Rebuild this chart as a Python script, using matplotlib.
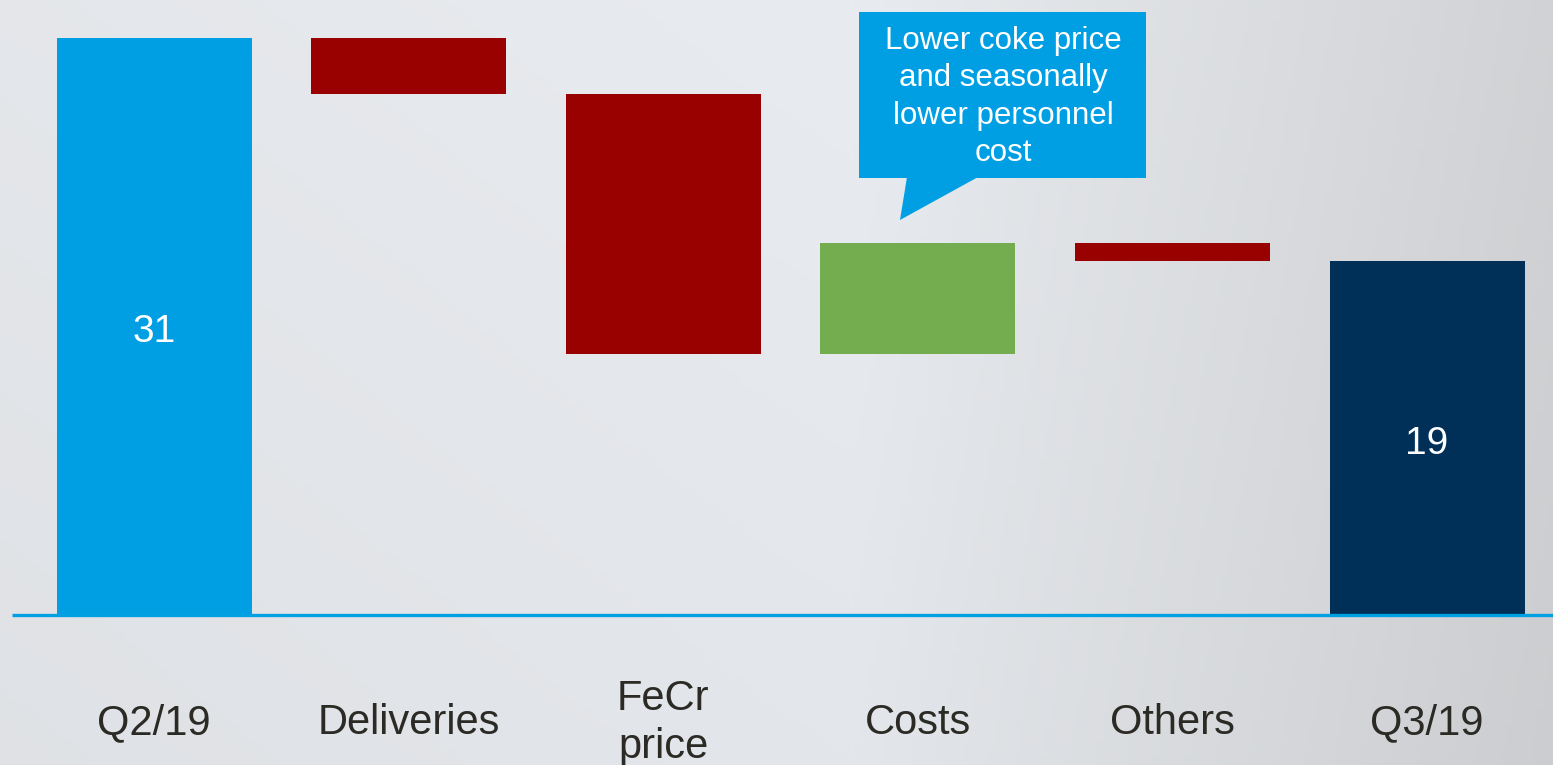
import numpy as np
import matplotlib
matplotlib.use("Agg")
import matplotlib.pyplot as plt
from matplotlib.patches import Polygon, Rectangle

plt.rcParams['font.family'] = ['Liberation Sans', 'DejaVu Sans']

categories = ["Q2/19", "Deliveries", "FeCr\nprice", "Costs", "Others", "Q3/19"]
changes = [31, -3, -14, 6, -1, 19]   # first and last are totals
kinds = ["total", "delta", "delta", "delta", "delta", "total"]
inside_labels = ["31", "", "", "", "", "19"]
callout_text = "Lower coke price\nand seasonally\nlower personnel\ncost"

C_START = "#009fe3"
C_END = "#003057"
C_NEG = "#990000"
C_POS = "#74ad50"
C_AXIS = "#00a0e3"

W, H = 1553, 765
fig = plt.figure(figsize=(W / 100, H / 100), dpi=100)

# background gradient
bg = fig.add_axes([0, 0, 1, 1], zorder=0)
xs = np.linspace(0, 1, 300)
ys = np.linspace(0, 1, 150)
X, Y = np.meshgrid(xs, ys)
left = np.array([0.875, 0.885, 0.900])
mid = np.array([0.890, 0.902, 0.918])
right = np.array([0.80, 0.805, 0.815])
t = X
col = np.where(t[..., None] < 0.55,
               left + (mid - left) * (t[..., None] / 0.55),
               mid + (right - mid) * ((t[..., None] - 0.55) / 0.45))
col = col + 0.02 * (Y[..., None])
bg.imshow(np.clip(col, 0, 1), aspect='auto', extent=[0, 1, 0, 1], origin='lower')
bg.set_axis_off()

ax = fig.add_axes([0, 0, 1, 1], zorder=1)
ax.patch.set_alpha(0)
spacing = 254.6
x0 = 154
ax.set_xlim(-x0 / spacing, (W - x0) / spacing)
scale = (615 - 38) / 31
ax.set_ylim(-(H - 615) / scale, 615 / scale)
ax.set_axis_off()

n = len(categories)
xpos = np.arange(n)
width = 195 / spacing
running = 0
for i, (v, k) in enumerate(zip(changes, kinds)):
    if k == "total":
        bottom, height = 0, v
        color = C_START if i == 0 else C_END
        running = v
    else:
        new = running + v
        bottom, height = min(running, new), abs(v)
        color = C_POS if v > 0 else C_NEG
        running = new
    ax.bar(xpos[i], height, bottom=bottom, width=width, color=color, zorder=3)
    if inside_labels[i]:
        ax.text(xpos[i], bottom + height * 0.5 - 0.3, inside_labels[i],
                ha='center', va='center', color='white', fontsize=28, zorder=4)

# axis line
ax.plot([(12 - x0) / spacing, (W - x0) / spacing], [0, 0], color=C_AXIS, lw=2.4,
        zorder=5, solid_capstyle='butt')

# category labels
for i, c in enumerate(categories):
    ax.text(xpos[i], -(723 - 615) / scale, c, ha='center', va='center',
            fontsize=30, color='#2b2a25', linespacing=1.27)

# callout near the Costs bar
def px2x(px):
    return (px - x0) / spacing
def py2y(py):
    return (615 - py) / scale
bx0, bx1 = px2x(859), px2x(1146)
by0, by1 = py2y(178), py2y(12)
ax.add_patch(Rectangle((bx0, by0), bx1 - bx0, by1 - by0, color=C_START, zorder=6, lw=0))
ax.add_patch(Polygon([(px2x(907), by0 + 0.05), (px2x(900), py2y(220)), (px2x(978), by0 + 0.05)],
                     closed=True, color=C_START, zorder=6, lw=0))
ax.text(px2x(1003), py2y(97), callout_text, ha='center', va='center',
        color='white', fontsize=22.5, linespacing=1.33, zorder=7)

fig.savefig("out.png", dpi=100)
